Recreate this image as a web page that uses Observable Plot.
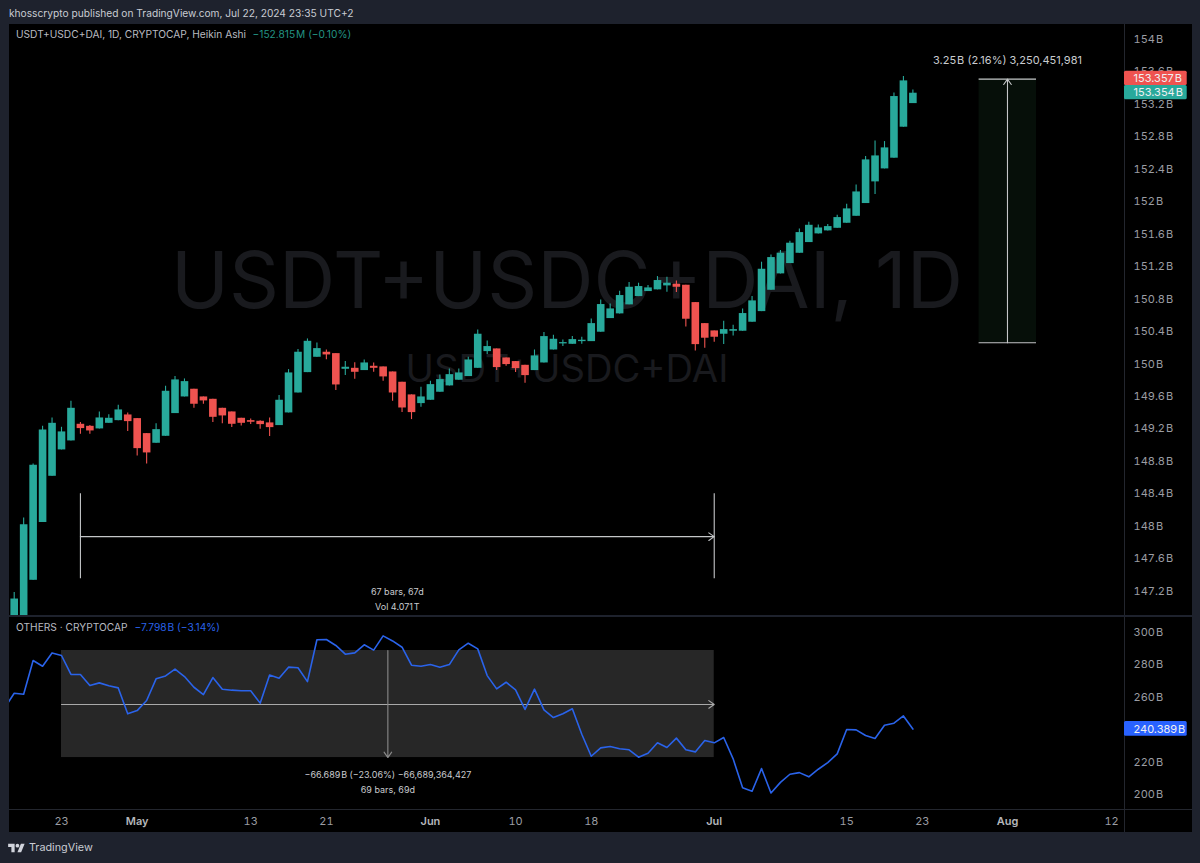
<!DOCTYPE html>
<html>
<head>
<meta charset="utf-8">
<script src="https://cdn.jsdelivr.net/npm/d3@7"></script>
<script src="https://cdn.jsdelivr.net/npm/@observablehq/plot@0.6"></script>
<style>
  html, body { margin: 0; padding: 0; background: #1e222d; width: 1200px; height: 863px; overflow: hidden; font-family: Inter, "Noto Sans", sans-serif; }
  #head { position: absolute; left: 9px; top: 6px; font-size: 10.2px; line-height: 14px; color: #c9ccd3; white-space: nowrap; }
  #top, #bottom { position: absolute; left: 9px; width: 1183px; background: #000; }
  #top { top: 24px; height: 591px; }
  #bottom { top: 617px; height: 215px; }
  #top svg, #bottom svg { display: block; }
  #foot { position: absolute; left: 8px; top: 841px; display: flex; align-items: center; gap: 4px; color: #c9ccd3; font-size: 10.8px; line-height: 14px; }
</style>
</head>
<body>
<div id="head"></div>
<div id="top"></div>
<div id="bottom"></div>
<div id="foot"><svg width="17" height="13" viewBox="0 0 36 28"><path fill="#d1d4dc" d="M14 22H7V11H0V4h14v18zM28 22h-8l7.5-18h8L28 22z"/><circle fill="#d1d4dc" cx="20" cy="8" r="4"/></svg><span id="brand"></span></div>
<script>
// ---- texts ----
const publishedText = "khosscrypto published on TradingView.com, Jul 22, 2024 23:35 UTC+2";
const brandText = "TradingView";
const mainLegend = "USDT+USDC+DAI, 1D, CRYPTOCAP, Heikin Ashi";
const mainChange = "\u2212152.815\u200aM (\u22120.10%)";
const subLegend = "OTHERS \u00b7 CRYPTOCAP";
const subChange = "\u22127.798\u200aB (\u22123.14%)";
const watermarkLarge = "USDT+USDC+DAI, 1D";
const watermarkSmall = "USDT+USDC+DAI";

// ---- Heikin Ashi candles, Apr 18 to Jul 22, 2024, in billions ----
const opens = [
  146.80,146.88,147.334,148.045,148.616,148.941,149.052,149.257,149.232,149.200,149.269,149.302,149.372,
  149.327,149.142,149.023,149.109,149.389,149.594,149.689,149.594,149.565,149.454,149.409,149.331,149.302,149.294,149.274,149.241,149.397,149.643,149.894,150.083,150.145,150.128,149.935,149.947,149.919,149.972,149.964,149.902,149.775,149.619,149.512,
  149.553,149.652,149.730,149.800,149.845,149.947,150.153,150.186,150.075,150.030,149.984,149.919,150.013,150.173,150.248,150.243,150.276,150.276,150.392,150.560,150.618,150.729,150.831,150.893,150.914,150.963,150.983,150.971,150.757,150.498,
  150.408,150.367,150.404,150.404,150.515,150.646,150.909,151.111,151.238,151.365,151.497,151.604,151.641,151.673,151.735,151.821,151.978,152.245,152.405,152.537,152.919,153.210
];
const highs = [
  147.185,148.102,148.768,149.232,149.335,149.220,149.541,149.278,149.241,149.409,149.376,149.491,149.397,
  149.327,149.142,149.265,149.726,149.845,149.816,149.689,149.594,149.565,149.454,149.409,149.331,149.323,149.302,149.335,149.611,149.931,150.178,150.309,150.260,150.173,150.128,150.030,150.017,150.050,150.013,149.964,149.902,149.775,149.619,149.713,
  149.787,149.865,149.939,149.939,150.083,150.420,150.285,150.186,150.075,150.030,149.984,150.173,150.387,150.354,150.297,150.338,150.330,150.556,150.790,150.741,150.897,151.004,150.996,150.967,151.078,151.070,151.024,150.971,150.757,150.498,
  150.408,150.527,150.478,150.679,150.831,151.255,151.345,151.399,151.514,151.665,151.747,151.714,151.719,151.834,151.969,152.208,152.557,152.750,152.742,153.342,153.543,153.379
];
const lows = [
  146.75,146.85,147.334,148.045,148.616,148.941,149.052,149.134,149.134,149.200,149.269,149.302,149.167,
  148.867,148.768,149.023,149.109,149.389,149.594,149.454,149.504,149.278,149.265,149.216,149.237,149.253,149.195,149.105,149.241,149.397,149.643,149.894,150.083,150.054,149.672,149.857,149.812,149.919,149.898,149.787,149.541,149.401,149.315,149.467,
  149.553,149.652,149.730,149.800,149.845,149.947,150.116,149.919,149.972,149.894,149.763,149.919,150.013,150.173,150.215,150.243,150.244,150.276,150.392,150.560,150.618,150.729,150.831,150.893,150.914,150.885,150.881,150.457,150.161,150.194,
  150.268,150.239,150.346,150.404,150.515,150.646,150.909,151.111,151.238,151.365,151.497,151.604,151.641,151.673,151.735,151.821,151.978,152.088,152.405,152.537,152.919,153.210
];
const closes = [
  147.103,148.020,148.752,149.187,149.269,149.163,149.454,149.204,149.175,149.335,149.331,149.434,149.290,
  148.957,148.904,149.191,149.664,149.804,149.783,149.504,149.545,149.343,149.360,149.257,149.269,149.282,149.253,149.216,149.553,149.890,150.145,150.280,150.190,150.112,149.742,149.960,149.898,150.013,149.947,149.841,149.643,149.458,149.401,149.594,
  149.746,149.808,149.869,149.890,150.050,150.367,150.215,149.956,149.993,149.943,149.857,150.100,150.338,150.305,150.264,150.301,150.293,150.498,150.733,150.679,150.844,150.946,150.955,150.938,151.029,150.996,150.946,150.552,150.239,150.318,
  150.330,150.424,150.424,150.622,150.778,151.168,151.312,151.366,151.489,151.620,151.710,151.677,151.694,151.805,151.912,152.121,152.516,152.565,152.664,153.297,153.490,153.338
];

// ---- OTHERS line, Apr 17 to Jul 22, 2024, in billions ----
const othersValues = [
  253.5,262.5,261.9,282.7,279.2,287.4,285.8,274.1,274.1,267.3,268.9,267.1,265.8,249.8,251.8,258.0,271.4,273.2,277.4,272.8,
  266.2,261.7,272.2,265.0,264.4,264.0,264.0,256.4,273.7,271.8,278.6,278.2,269.7,295.5,295.7,292.0,286.6,287.4,292.4,289.1,
  297.9,294.8,290.9,279.8,279.2,280.2,278.6,280.2,289.3,293.4,289.9,273.4,265.2,269.3,264.6,252.5,265.0,252.2,247.5,249.8,
  252.9,237.2,223.6,228.8,229.6,228.2,227.6,223.0,225.5,231.9,229.0,234.8,227.6,226.3,233.3,231.9,235.2,222.0,204.1,202.0,
  216.0,200.9,207.5,212.5,213.5,210.9,215.6,219.7,225.1,240.1,239.9,236.4,234.6,242.8,244.0,248.5,240.4
];

// ---- axes ----
const mainTicks = [147.2,147.6,148,148.4,148.8,149.2,149.6,150,150.4,150.8,151.2,151.6,152,152.4,152.8,153.2,153.6,154];
const subTicks = [200,220,260,280,300];
const dayTicks = [[2024,3,23,"23"],[2024,4,13,"13"],[2024,4,21,"21"],[2024,5,10,"10"],[2024,5,18,"18"],[2024,6,15,"15"],[2024,6,23,"23"],[2024,7,12,"12"]];
const monthTicks = [[2024,4,1,"May"],[2024,5,1,"Jun"],[2024,6,1,"Jul"],[2024,7,1,"Aug"]];

// ---- colours ----
const UP = "#28a99b", DOWN = "#ef5350", BLUE = "#2a63ea", AXIS = "#9b9da3", LEGEND = "#b9bbc1", SEP = "#23262e";
const FONT = "Inter, 'Noto Sans', sans-serif";

const utc = (y, m, d) => new Date(Date.UTC(y, m, d));
const day = d => new Date(Date.UTC(2024, 3, 23) + d * 864e5);
const dayList = (n, start) => d3.range(n).map(i => new Date(start.getTime() + i * 864e5));

const candleDates = dayList(opens.length, utc(2024, 3, 18));
const candles = candleDates.map((date, i) => ({date, open: opens[i], high: highs[i], low: lows[i], close: closes[i]}));
const others = dayList(othersValues.length, utc(2024, 3, 17)).map((date, i) => ({date, value: othersValues[i]}));

const xDomain = [day(-5.497), day(112.37)];
const axisEnd = xDomain[1];
const labelEnd = day(119);
const paneEnd = day(125.1);
const bFormat = v => `${v}\u200aB`;
const dir = d => d.close >= d.open ? UP : DOWN;

document.getElementById("head").textContent = publishedText;
document.getElementById("brand").textContent = brandText;

const common = {width: 1183, marginLeft: 0, marginRight: 68, marginTop: 0,
  style: {background: "#000", fontFamily: FONT}};

const priceLabels = [
  {text: "153.357\u200aB", lo: 153.433, hi: 153.609, mid: 153.517, fill: DOWN},
  {text: "153.354\u200aB", lo: 153.256, hi: 153.433, mid: 153.345, fill: UP}
];

const topPlot = Plot.plot({
  ...common, height: 591, marginBottom: 0,
  x: {type: "utc", domain: xDomain, range: [0, 1115], axis: null},
  y: {domain: [146.9, 154.185], range: [591, 0], axis: null},
  marks: [
    Plot.text([watermarkLarge], {frameAnchor: "middle", dy: -37, fontSize: 78, fill: "#191a1e", fontFamily: FONT}),
    Plot.text([watermarkSmall], {frameAnchor: "middle", dy: 50, fontSize: 38.2, fill: "#191a1e", fontFamily: FONT}),
    Plot.axisY(mainTicks, {anchor: "right", tickSize: 0, tickPadding: 9, tickFormat: bFormat, fill: AXIS, fontSize: 11, label: null}),
    Plot.ruleX([axisEnd], {stroke: SEP}),
    // price measure
    Plot.rect([0], {x1: () => day(97), x2: () => day(103.07), y1: () => 150.262, y2: () => 153.512, fill: "#060f09"}),
    Plot.ruleY([150.262, 153.512], {x1: day(97), x2: day(103.07), stroke: "#c4c6c8", strokeWidth: 1.2}),
    Plot.arrow([0], {x1: () => day(100), x2: () => day(100), y1: () => 150.262, y2: () => 153.512, stroke: "#c4c6c8", strokeWidth: 1.1, headLength: 9, headAngle: 70}),
    Plot.text(["3.25\u200aB (2.16%) 3,250,451,981"], {x: day(100), y: 153.741, fill: "#c9cbcf", fontSize: 11, fontFamily: FONT}),
    // date measure
    Plot.ruleX([day(2), day(69)], {y1: 147.353, y2: 148.402, stroke: "#c4c6c8", strokeWidth: 1.1}),
    Plot.arrow([0], {x1: () => day(2), x2: () => day(69), y1: () => 147.872, y2: () => 147.872, stroke: "#c4c6c8", strokeWidth: 1.1, headLength: 9, headAngle: 70}),
    Plot.text(["67 bars, 67d"], {x: day(35.5), y: 147.194, fill: "#c9cbcf", fontSize: 9, fontFamily: FONT}),
    Plot.text(["Vol 4.071\u200aT"], {x: day(35.5), y: 147.009, fill: "#c9cbcf", fontSize: 9, fontFamily: FONT}),
    // candles
    Plot.ruleX(candles, {x: "date", y1: "low", y2: "high", stroke: dir, strokeWidth: 1.1, clip: true}),
    Plot.ruleX(candles, {x: "date", y1: "open", y2: "close", stroke: dir, strokeWidth: 7.6, clip: true}),
    // last price labels
    Plot.rect(priceLabels, {x1: () => axisEnd, x2: () => labelEnd, y1: "lo", y2: "hi", fill: "fill", rx: 1.5}),
    Plot.text(priceLabels, {x: () => axisEnd, y: "mid", text: "text", textAnchor: "start", dx: 9, fill: "#f0f0f2", fontSize: 11, fontFamily: FONT}),
    // legend
    Plot.text([mainLegend], {frameAnchor: "top-left", dx: 6.5, dy: 6.5, fill: LEGEND, fontSize: 10.2, fontFamily: FONT}),
    Plot.text([mainChange], {frameAnchor: "top-left", dx: 243, dy: 6.5, fill: "#239484", fontSize: 10.2, fontFamily: FONT})
  ]
});
document.getElementById("top").appendChild(topPlot);

const subLabel = [{text: "240.389\u200aB", lo: 236.0, hi: 245.06, mid: 240.389}];
const subBottom = 190.74;

const bottomPlot = Plot.plot({
  ...common, height: 215, marginBottom: 23,
  x: {type: "utc", domain: xDomain, range: [0, 1115], axis: null},
  y: {domain: [subBottom, 309.26], range: [192, 0], axis: null},
  marks: [
    Plot.axisY(subTicks, {anchor: "right", tickSize: 0, tickPadding: 9, tickFormat: bFormat, fill: AXIS, fontSize: 11, label: null}),
    Plot.axisX(dayTicks.map(t => utc(t[0], t[1], t[2])), {anchor: "bottom", tickSize: 0, tickPadding: 8, tickFormat: (d, i) => dayTicks[i][3], fill: AXIS, fontSize: 11, label: null}),
    Plot.axisX(monthTicks.map(t => utc(t[0], t[1], t[2])), {anchor: "bottom", tickSize: 0, tickPadding: 8, tickFormat: (d, i) => monthTicks[i][3], fill: "#b4b6bb", fontSize: 11, fontWeight: 600, label: null}),
    Plot.ruleX([axisEnd], {y1: 309.26, y2: 176.5, stroke: SEP}),
    Plot.ruleY([subBottom], {x1: xDomain[0], x2: paneEnd, stroke: SEP}),
    // price-and-date measure
    Plot.rect([0], {x1: () => day(0), x2: () => day(69), y1: () => 222.8, y2: () => 288.9, fill: "#272727"}),
    Plot.arrow([0], {x1: () => day(0), x2: () => day(69), y1: () => 255.6, y2: () => 255.6, stroke: "#a9a9a9", strokeWidth: 1.1, headLength: 9, headAngle: 70}),
    Plot.arrow([0], {x1: () => day(34.5), x2: () => day(34.5), y1: () => 288.9, y2: () => 222.8, stroke: "#8a8a8a", strokeWidth: 1.1, headLength: 9, headAngle: 70}),
    Plot.text(["\u221266.689\u200aB (\u221223.06%) \u221266,689,364,427"], {x: day(34.5), y: 211.7, fill: "#c9cbcf", fontSize: 9, fontFamily: FONT}),
    Plot.text(["69 bars, 69d"], {x: day(34.5), y: 202.5, fill: "#c9cbcf", fontSize: 9, fontFamily: FONT}),
    // line
    Plot.line(others, {x: "date", y: "value", stroke: BLUE, strokeWidth: 1.6, curve: "linear", clip: true}),
    // label
    Plot.rect(subLabel, {x1: () => axisEnd, x2: () => labelEnd, y1: "lo", y2: "hi", fill: "#2962ff", rx: 1.5}),
    Plot.text(subLabel, {x: () => axisEnd, y: "mid", text: "text", textAnchor: "start", dx: 9, fill: "#f0f0f2", fontSize: 11, fontFamily: FONT}),
    // legend
    Plot.text([subLegend], {frameAnchor: "top-left", dx: 6.5, dy: 6.5, fill: LEGEND, fontSize: 10.2, fontFamily: FONT}),
    Plot.text([subChange], {frameAnchor: "top-left", dx: 125, dy: 6.5, fill: BLUE, fontSize: 10.2, fontFamily: FONT})
  ]
});
document.getElementById("bottom").appendChild(bottomPlot);
</script>
</body>
</html>
